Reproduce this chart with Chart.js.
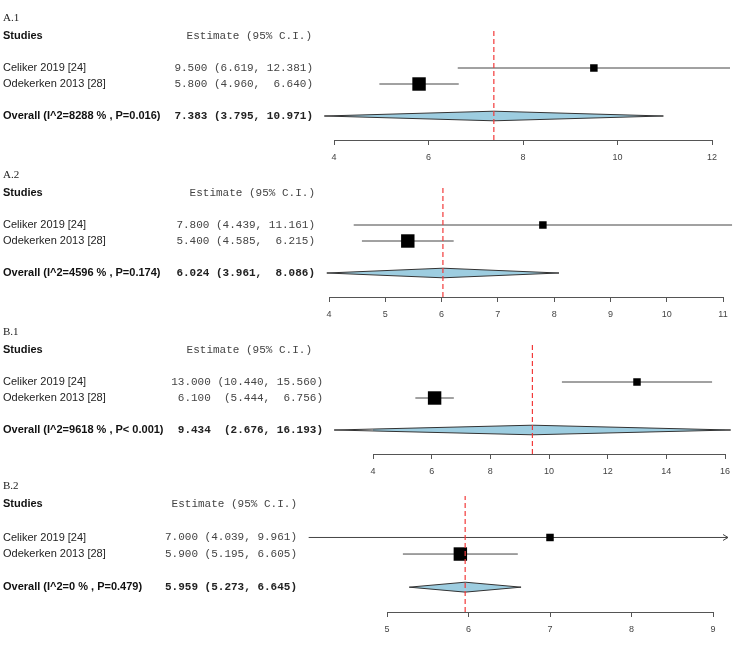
<!DOCTYPE html>
<html>
<head>
<meta charset="utf-8">
<script src="https://cdn.jsdelivr.net/npm/chart.js"></script>
<style>
  html, body { margin: 0; padding: 0; background: #fff; }
  #wrap { position: relative; width: 750px; height: 649px; overflow: hidden; }
  #wrap canvas { position: absolute; left: 0; }
</style>
</head>
<body>
<div id="wrap">
  <canvas id="c0" width="750" height="162"></canvas>
  <canvas id="c1" width="750" height="162"></canvas>
  <canvas id="c2" width="750" height="162"></canvas>
  <canvas id="c3" width="750" height="162"></canvas>
</div>
<script>
// data
const panelNames = ['A.1', 'A.2', 'B.1', 'B.2'];
const studies = ['Celiker 2019 [24]', 'Odekerken 2013 [28]'];
const est = [[9.5, 5.8], [7.8, 5.4], [13.0, 6.1], [7.0, 5.9]];
const ciLow = [[6.619, 4.960], [4.439, 4.585], [10.440, 5.444], [4.039, 5.195]];
const ciHigh = [[12.381, 6.640], [11.161, 6.215], [15.560, 6.756], [9.961, 6.605]];
const pooledEst = [7.383, 6.024, 9.434, 5.959];
const pooledLow = [3.795, 3.961, 2.676, 5.273];
const pooledHigh = [10.971, 8.086, 16.193, 6.645];
const pooledLabel = [
    'Overall (I^2=8288 % , P=0.016)',
    'Overall (I^2=4596 % , P=0.174)',
    'Overall (I^2=9618 % , P< 0.001)',
    'Overall (I^2=0 % , P=0.479)'
];
const axisMin = [4, 4, 4, 5];
const axisMax = [12, 11, 16, 9];
const axisStep = [2, 1, 2, 1];

// layout per panel (pixels)
const layoutCfg = [
    {top: 0,   left: 334, right: 38, estRight: 313, headRight: 312, clipRight: null, yMax: 7.625},
    {top: 157, left: 329, right: 27, estRight: 315, headRight: 315, clipRight: null, yMax: 7.625},
    {top: 314, left: 373, right: 25, estRight: 323, headRight: 312, clipRight: null, yMax: 7.625},
    {top: 472, left: 387, right: 37, estRight: 297, headRight: 297, clipRight: 15, yMax: 7.35}
];
const boxRadius = [5.3, 9.5];
const studyRows = [4, 3];
const pooledRow = 1;

const SANS = '"Liberation Sans", Arial, sans-serif';
const MONO = '"Liberation Mono", "Courier New", monospace';
const SERIF = '"Liberation Serif", "Times New Roman", serif';

function fmt3(v){ return v.toFixed(3); }

// R style estimate column, widths taken from the longest entry of the panel
function estStrings(p){
    let all = est[p].map((e, i) => [e, ciLow[p][i], ciHigh[p][i]]);
    all.push([pooledEst[p], pooledLow[p], pooledHigh[p]]);
    let we = 0, wl = 0, wh = 0;
    for(let r of all){
        we = Math.max(we, fmt3(r[0]).length);
        wl = Math.max(wl, fmt3(r[1]).length);
        wh = Math.max(wh, fmt3(r[2]).length);
    }
    return all.map(r => fmt3(r[0]).padStart(we) + ' ' +
        ('(' + fmt3(r[1]) + ',').padStart(wl + 2) + ' ' +
        (fmt3(r[2]) + ')').padStart(wh + 1));
}

const textPlugin = {
    id: 'forestText',
    afterDraw(chart){
        const p = chart.options.plugins.forestText.panel;
        const cfg = layoutCfg[p];
        const ctx = chart.ctx;
        const y = chart.scales.y;
        const x = chart.scales.x;
        const lines = estStrings(p);
        ctx.save();
        ctx.textBaseline = 'middle';

        ctx.fillStyle = '#222';
        ctx.textAlign = 'left';
        ctx.font = '11px ' + SERIF;
        ctx.fillText(panelNames[p], 3, y.getPixelForValue(7.1));

        ctx.font = 'bold 11px ' + SANS;
        ctx.fillStyle = '#111';
        ctx.fillText('Studies', 3, y.getPixelForValue(6));
        ctx.textAlign = 'right';
        ctx.font = '11px ' + MONO;
        ctx.fillStyle = '#444';
        ctx.fillText('Estimate (95% C.I.)', cfg.headRight, y.getPixelForValue(6));

        studies.forEach((s, i) => {
            const yy = y.getPixelForValue(studyRows[i]);
            ctx.textAlign = 'left';
            ctx.font = '11px ' + SANS;
            ctx.fillStyle = '#222';
            ctx.fillText(s, 3, yy);
            ctx.textAlign = 'right';
            ctx.font = '11px ' + MONO;
            ctx.fillStyle = '#444';
            ctx.fillText(lines[i], cfg.estRight, yy);
        });

        const yo = y.getPixelForValue(pooledRow);
        ctx.textAlign = 'left';
        ctx.font = 'bold 11px ' + SANS;
        ctx.fillStyle = '#111';
        ctx.fillText(pooledLabel[p], 3, yo);
        ctx.textAlign = 'right';
        ctx.font = 'bold 11px ' + MONO;
        ctx.fillStyle = '#222';
        ctx.fillText(lines[2], cfg.estRight, yo);

        // arrow heads where a CI runs past the plotting region
        if(cfg.clipRight !== null){
            const edge = chart.chartArea.right + cfg.clipRight;
            studies.forEach((s, i) => {
                if(x.getPixelForValue(ciHigh[p][i]) > edge){
                    const yy = y.getPixelForValue(studyRows[i]);
                    ctx.strokeStyle = '#444';
                    ctx.lineWidth = 1;
                    ctx.beginPath();
                    ctx.moveTo(edge - 5, yy - 3);
                    ctx.lineTo(edge, yy);
                    ctx.lineTo(edge - 5, yy + 3);
                    ctx.stroke();
                }
            });
        }
        ctx.restore();
    }
};

function makePanel(p){
    const cfg = layoutCfg[p];
    const canvas = document.getElementById('c' + p);
    canvas.style.top = cfg.top + 'px';
    const ciClip = cfg.clipRight === null ? false :
        {left: false, top: false, bottom: false, right: cfg.clipRight};

    let datasets = [];
    // reference line at pooled estimate
    datasets.push({
        data: [{x: pooledEst[p], y: -0.5}, {x: pooledEst[p], y: 6.5}],
        showLine: true, borderColor: '#f23a3a', borderWidth: 1.2,
        borderDash: [5, 3], pointRadius: 0, clip: false
    });
    // study boxes
    datasets.push({
        data: est[p].map((v, i) => ({x: v, y: studyRows[i]})),
        pointStyle: 'rect', pointRadius: boxRadius,
        backgroundColor: '#000', borderWidth: 0, clip: false
    });
    // confidence intervals
    studies.forEach((s, i) => {
        datasets.push({
            data: [{x: ciLow[p][i], y: studyRows[i]}, {x: ciHigh[p][i], y: studyRows[i]}],
            showLine: true, borderColor: '#444', borderWidth: 1,
            pointRadius: 0, clip: ciClip
        });
    });
    // pooled diamond
    const h = 0.3;
    datasets.push({
        data: [
            {x: pooledLow[p], y: pooledRow},
            {x: pooledEst[p], y: pooledRow + h},
            {x: pooledHigh[p], y: pooledRow},
            {x: pooledEst[p], y: pooledRow - h},
            {x: pooledLow[p], y: pooledRow}
        ],
        showLine: true, fill: 'shape', backgroundColor: '#9dcde0',
        borderColor: '#333', borderWidth: 1, pointRadius: 0, clip: false
    });

    new Chart(canvas, {
        type: 'scatter',
        data: {datasets: datasets},
        options: {
            responsive: false,
            animation: false,
            layout: {padding: {left: cfg.left, right: cfg.right, top: 10, bottom: 0}},
            plugins: {
                legend: {display: false},
                tooltip: {enabled: false},
                forestText: {panel: p}
            },
            scales: {
                x: {
                    type: 'linear',
                    min: axisMin[p], max: axisMax[p],
                    ticks: {stepSize: axisStep[p], color: '#444', padding: 7,
                            autoSkip: false, maxRotation: 0,
                            font: {size: 9, family: SANS}},
                    grid: {drawOnChartArea: false, drawTicks: true, tickLength: 5, color: '#555'},
                    border: {display: true, color: '#555', width: 1},
                    afterFit: function(scale){ scale.height = 22; }
                },
                y: {
                    type: 'linear', display: false,
                    min: -0.5, max: cfg.yMax
                }
            }
        },
        plugins: [textPlugin]
    });
}

for(let p = 0; p < 4; p++) makePanel(p);
</script>
</body>
</html>
